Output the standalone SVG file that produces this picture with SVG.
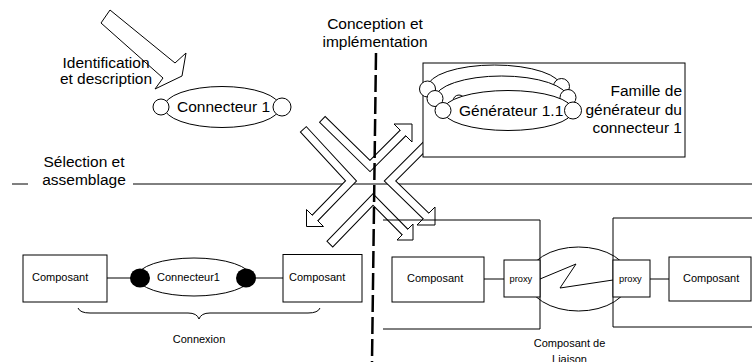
<svg xmlns="http://www.w3.org/2000/svg" width="752" height="362" viewBox="0 0 752 362">
  <style>
    text { font-family: "Liberation Sans", Arial, sans-serif; fill: #000; }
    .big { font-size: 15.5px; }
    .small { font-size: 11px; }
    .tiny { font-size: 9.3px; }
    .mid { text-anchor: middle; }
    .end { text-anchor: end; }
    .shape { fill: #fff; stroke: #000; stroke-width: 1; }
    .line { fill: none; stroke: #000; stroke-width: 1; }
    .band-o { fill: none; stroke: #000; stroke-width: 9; stroke-linejoin: miter; stroke-linecap: butt; }
    .band-i { fill: none; stroke: #fff; stroke-width: 7; stroke-linejoin: miter; stroke-linecap: butt; }
    .head { fill: #fff; stroke: #000; stroke-width: 1; stroke-linejoin: miter; }
    .dash { fill: none; stroke: #000; stroke-width: 2.5; stroke-dasharray: 17 5; }
  </style>

  <rect width="752" height="362" fill="#fff"/>

  <!-- phase separators -->
  <g id="separators">
    <line class="line" x1="12" y1="184" x2="28" y2="184"/>
    <line class="line" x1="133" y1="184" x2="752" y2="184"/>
  </g>

  <!-- identification arrow -->
  <g id="identification">
    <polygon class="shape" points="110,10 175,63 186,53 182,76 155,89 163,78 101,23"/>
    <text class="big mid" x="106" y="68">Identification</text>
    <text class="big mid" x="106" y="84">et description</text>
  </g>

  <!-- abstract connector -->
  <g id="connecteur1">
    <ellipse class="shape" cx="222" cy="107" rx="58" ry="20.5"/>
    <circle class="shape" cx="161" cy="107" r="8"/>
    <circle class="shape" cx="282" cy="107" r="9"/>
    <text class="big" x="177" y="112">Connecteur 1</text>
  </g>

  <!-- crossing phase arrows -->
  <g id="connectors">
    <g id="arrow-conception">
      <path class="band-o" d="M322,119 L370,166 L403,133"/>
      <polygon class="head" points="394,124 412,124 412,142"/>
      <path class="band-i" d="M322.7,119.7 L370,166 L404.1,131.9"/>
    </g>
    <g id="arrow-selection">
      <path class="band-o" d="M303,129 L351,181 L315,218"/>
      <polygon class="head" points="306.5,209.5 306.5,226.5 323.5,226.5"/>
      <path class="band-i" d="M303.7,129.7 L351,181 L313.9,219.1"/>
    </g>
    <g id="arrow-generation">
      <path class="band-o" d="M432,139 L390,181 L426,216"/>
      <polygon class="head" points="435,207 435,225 417,225"/>
      <path class="band-i" d="M432,139 L390,181 L427.1,217.1"/>
    </g>
    <g id="arrow-assemblage">
      <path class="band-o" d="M329.5,244.5 L373,199.5 L405,232"/>
      <polygon class="head" points="413,224 413,240 397,240"/>
      <path class="band-i" d="M330.2,243.8 L373,199.5 L406.1,233.1"/>
    </g>
  </g>

  <!-- generator family -->
  <g id="famille-generateurs">
    <rect class="shape" x="423" y="63" width="262" height="94"/>
    <ellipse class="shape" cx="494.5" cy="87.5" rx="67" ry="22.5"/>
    <circle class="shape" cx="427.5" cy="89" r="8"/>
    <circle class="shape" cx="561.5" cy="86.5" r="8"/>
    <circle class="shape" cx="452" cy="90" r="6"/>
    <ellipse class="shape" cx="501.5" cy="98.5" rx="66.5" ry="22.5"/>
    <circle class="shape" cx="435" cy="98.5" r="8"/>
    <circle class="shape" cx="568" cy="97.5" r="8"/>
    <circle class="shape" cx="459" cy="101" r="6"/>
    <ellipse class="shape" cx="508" cy="110.5" rx="65" ry="20"/>
    <circle class="shape" cx="443" cy="110.5" r="8"/>
    <circle class="shape" cx="573" cy="110.5" r="8.5"/>
    <text class="big" x="459" y="116">Générateur 1.1</text>
    <text class="big end" x="682" y="96">Famille de</text>
    <text class="big end" x="682" y="115">générateur du</text>
    <text class="big end" x="682" y="133">connecteur 1</text>
  </g>

  <!-- phase labels -->
  <g id="labels">
    <text class="big mid" x="375" y="29">Conception et</text>
    <text class="big mid" x="375" y="47">implémentation</text>
    <text class="big mid" x="84" y="167">Sélection et</text>
    <text class="big mid" x="84" y="185">assemblage</text>
  </g>

  <!-- assembled connection -->
  <g id="connexion">
    <line class="line" x1="107" y1="278" x2="132" y2="278"/>
    <line class="line" x1="254" y1="278" x2="283" y2="278"/>
    <ellipse class="shape" cx="194" cy="277" rx="57" ry="19"/>
    <ellipse cx="140" cy="278" rx="10" ry="9.5" fill="#000"/>
    <ellipse cx="246" cy="278" rx="10" ry="9.5" fill="#000"/>
    <text class="small" x="157" y="281">Connecteur1</text>
    <g id="composant-a">
      <rect class="shape" x="23" y="255" width="84" height="47"/>
      <text class="small" x="32" y="281">Composant</text>
    </g>
    <g id="composant-b">
      <rect class="shape" x="283" y="254.5" width="79" height="47.5"/>
      <text class="small" x="289" y="281">Composant</text>
    </g>
    <path class="line" d="M78,308 Q80,313 90,313 L188,313 Q197,313 199,319 Q201,313 210,313 L308,313 Q318,313 320,308"/>
    <text class="small mid" x="199" y="343">Connexion</text>
  </g>

  <!-- distributed binding component -->
  <g id="liaison">
    <ellipse class="shape" cx="578.5" cy="279" rx="51" ry="32"/>
    <path class="line" d="M383,220 H540 V329 H383"/>
    <path class="line" d="M752,218 H613 V327 H752"/>
    <line class="line" x1="484" y1="279" x2="504" y2="279"/>
    <line class="line" x1="650" y1="279" x2="669" y2="279"/>
    <g id="proxy-a">
      <rect class="shape" x="504" y="260" width="36" height="37"/>
      <text class="tiny" x="509.5" y="282">proxy</text>
    </g>
    <g id="proxy-b">
      <rect class="shape" x="613" y="260" width="37" height="37"/>
      <text class="tiny" x="619" y="282">proxy</text>
    </g>
    <polyline class="line" points="540,279 576,264 560,288 613,280"/>
    <g id="composant-c">
      <rect class="shape" x="392" y="257" width="92" height="45"/>
      <text class="small" x="407" y="282">Composant</text>
    </g>
    <g id="composant-d">
      <rect class="shape" x="669" y="257" width="82" height="44"/>
      <text class="small" x="683" y="282">Composant</text>
    </g>
    <text class="small mid" x="569.5" y="347">Composant de</text>
    <text class="small mid" x="569.5" y="363">Liaison</text>
  </g>

  <!-- conception boundary -->
  <line class="dash" x1="376" y1="53" x2="372" y2="362"/>
</svg>
